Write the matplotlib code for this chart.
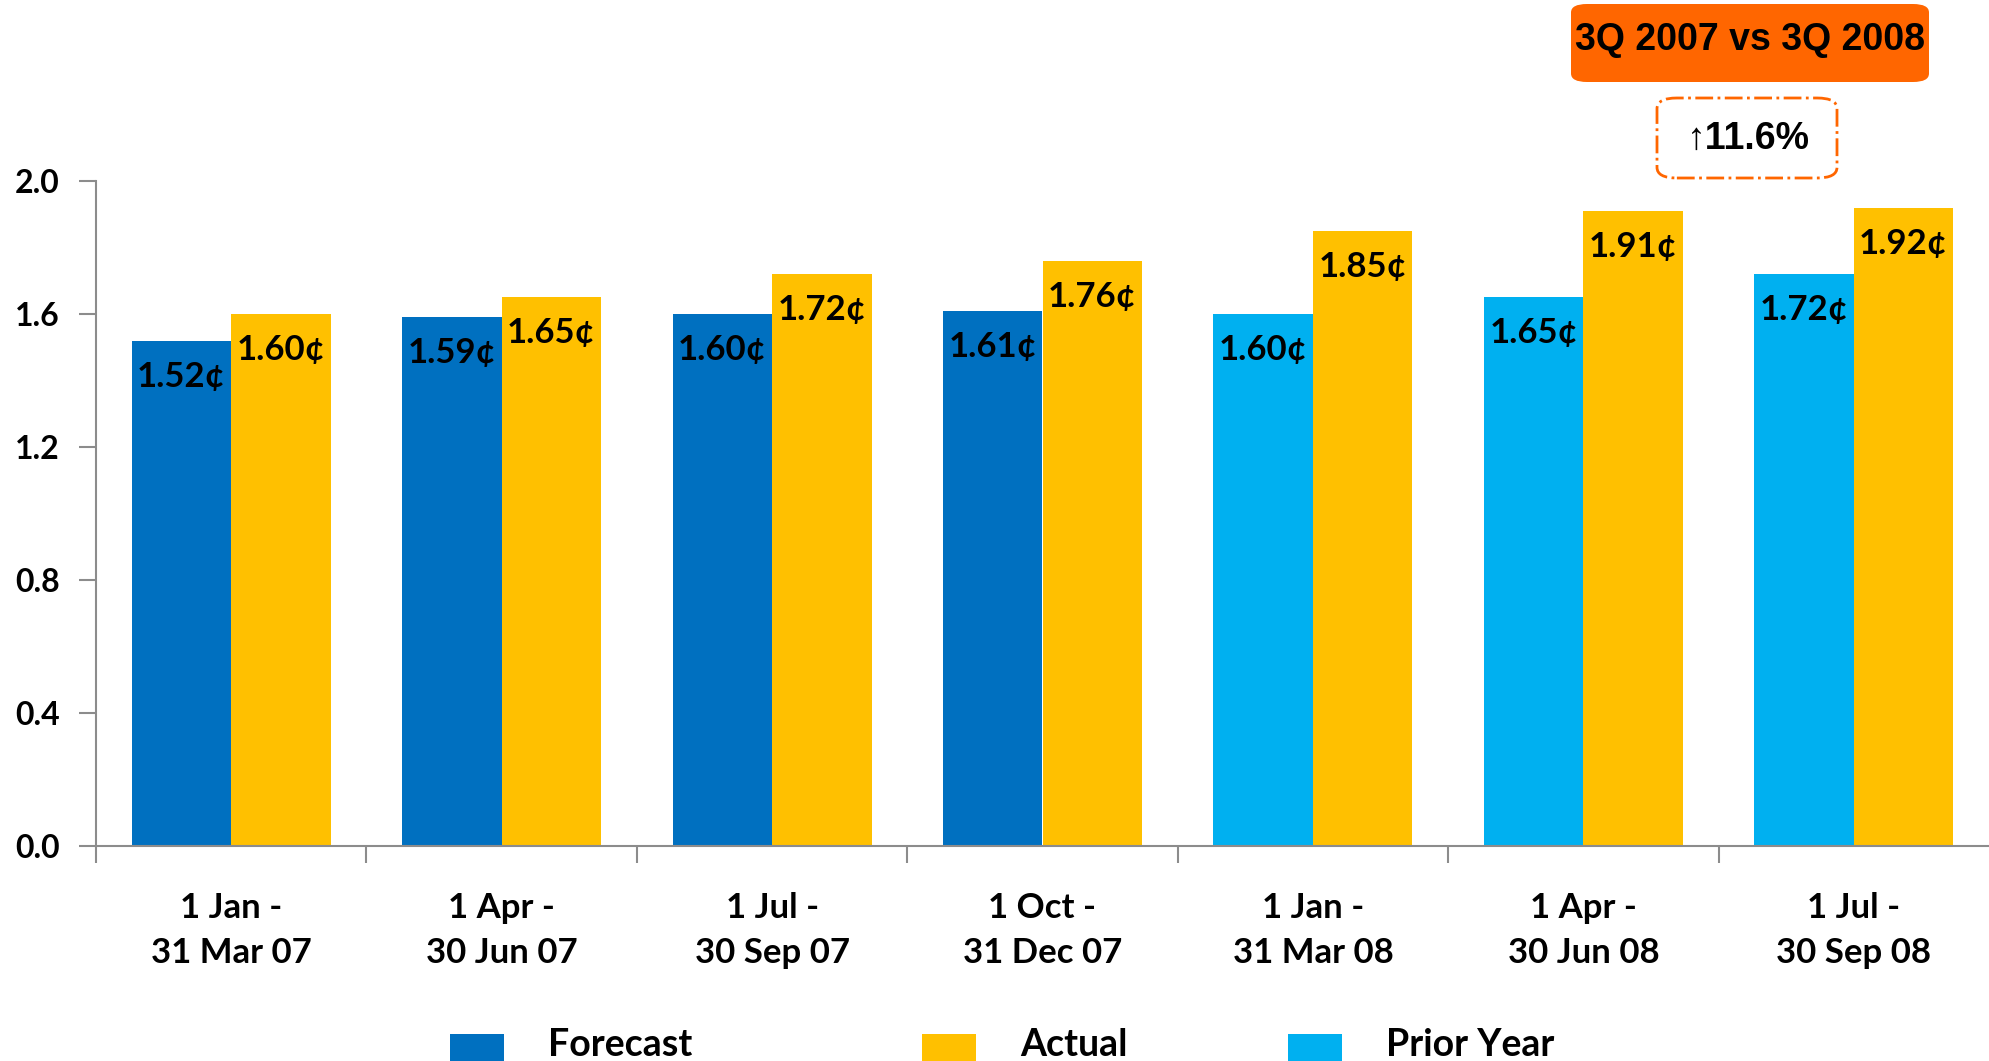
import numpy as np
import matplotlib
matplotlib.use("Agg")
import matplotlib.pyplot as plt
from matplotlib.patches import FancyBboxPatch, Rectangle

# data
periods = ["1 Jan -\n31 Mar 07", "1 Apr -\n30 Jun 07", "1 Jul -\n30 Sep 07",
           "1 Oct -\n31 Dec 07", "1 Jan -\n31 Mar 08", "1 Apr -\n30 Jun 08",
           "1 Jul -\n30 Sep 08"]
forecast = [1.52, 1.59, 1.60, 1.61]
prior_year = [1.60, 1.65, 1.72]
actual = [1.60, 1.65, 1.72, 1.76, 1.85, 1.91, 1.92]
yticks = [0.0, 0.4, 0.8, 1.2, 1.6, 2.0]
legend_names = ["Forecast", "Actual", "Prior Year"]
title_box = "3Q 2007 vs 3Q 2008"
change_text = "\u219111.6%"

c_fc = "#0070C0"
c_act = "#FFC000"
c_py = "#00B0F0"
c_or = "#FF6600"

W, H = 1989, 1061
fig = plt.figure(figsize=(W / 100, H / 100), dpi=100)
ax = fig.add_axes([96 / W, 1 - 846 / H, 1 - 96 / W, (846 - 181) / H])

lab_font = dict(family=["Lato", "DejaVu Sans"], weight="bold")
bw = 0.368
x = np.arange(len(periods))
n_fc = len(forecast)

b1 = ax.bar(x[:n_fc] - bw / 2, forecast, bw, color=c_fc, zorder=2)
b2 = ax.bar(x[n_fc:] - bw / 2, prior_year, bw, color=c_py, zorder=2)
b3 = ax.bar(x + bw / 2, actual, bw, color=c_act, zorder=2)

for bars in (b1, b2, b3):
    for r in bars:
        v = r.get_height()
        ax.annotate(f"{v:.2f}\u00a2", (r.get_x() + r.get_width() / 2, v),
                    xytext=(0, -26), textcoords="offset points",
                    ha="center", va="center", fontsize=25, **lab_font)

ax.set_xlim(-0.5, len(periods) - 0.5)
ax.set_ylim(0, 2.0)
ax.set_yticks(yticks)
ax.set_yticklabels([f"{t:.1f}" for t in yticks], fontsize=23, **lab_font)
ax.set_xticks(x)
ax.set_xticklabels(periods, fontsize=25, linespacing=1.5, **lab_font)
ax.set_xticks(np.arange(len(periods)) - 0.5, minor=True)
ax.tick_params(axis="x", which="major", length=0, pad=33)
ax.tick_params(axis="x", which="minor", length=12, color="#8c8c8c", width=1.5)
ax.tick_params(axis="y", length=12, color="#8c8c8c", width=1.5, pad=14)
for s in ("top", "right"):
    ax.spines[s].set_visible(False)
for s in ("left", "bottom"):
    ax.spines[s].set_color("#8c8c8c")
    ax.spines[s].set_linewidth(1.5)
ax.spines["bottom"].set_zorder(3)

# top-right boxes
tb = FancyBboxPatch((1571 / W, 1 - 82 / H), 358 / W, 78 / H,
                    boxstyle="round,pad=0,rounding_size=0.008",
                    transform=fig.transFigure, facecolor=c_or, edgecolor="none")
fig.patches.append(tb)
fig.text(1750 / W, 1 - 40 / H, title_box, ha="center", va="center",
         fontsize=27, weight="bold", family=["Liberation Sans", "DejaVu Sans"])

db = FancyBboxPatch((1657 / W, 1 - 178 / H), 180 / W, 80 / H,
                    boxstyle="round,pad=0,rounding_size=0.01",
                    transform=fig.transFigure, facecolor="none",
                    edgecolor=c_or, linestyle="-.", linewidth=2)
fig.patches.append(db)
fig.text(1748 / W, 1 - 139 / H, change_text, ha="center", va="center",
         fontsize=27, weight="bold", family=["Liberation Sans", "DejaVu Sans"])

# legend, drawn by hand at the bottom edge
leg_colors = [c_fc, c_act, c_py]
leg_x = [450, 922, 1288]
for name, col, lx in zip(legend_names, leg_colors, leg_x):
    fig.patches.append(Rectangle((lx / W, 1 - 1088 / H), 54 / W, 54 / H,
                                 transform=fig.transFigure, facecolor=col,
                                 edgecolor="none"))
    fig.text((lx + 98) / W, 1 - 1056 / H, name, ha="left", va="baseline",
             fontsize=27, **lab_font)

fig.savefig("out.png", dpi=100)
